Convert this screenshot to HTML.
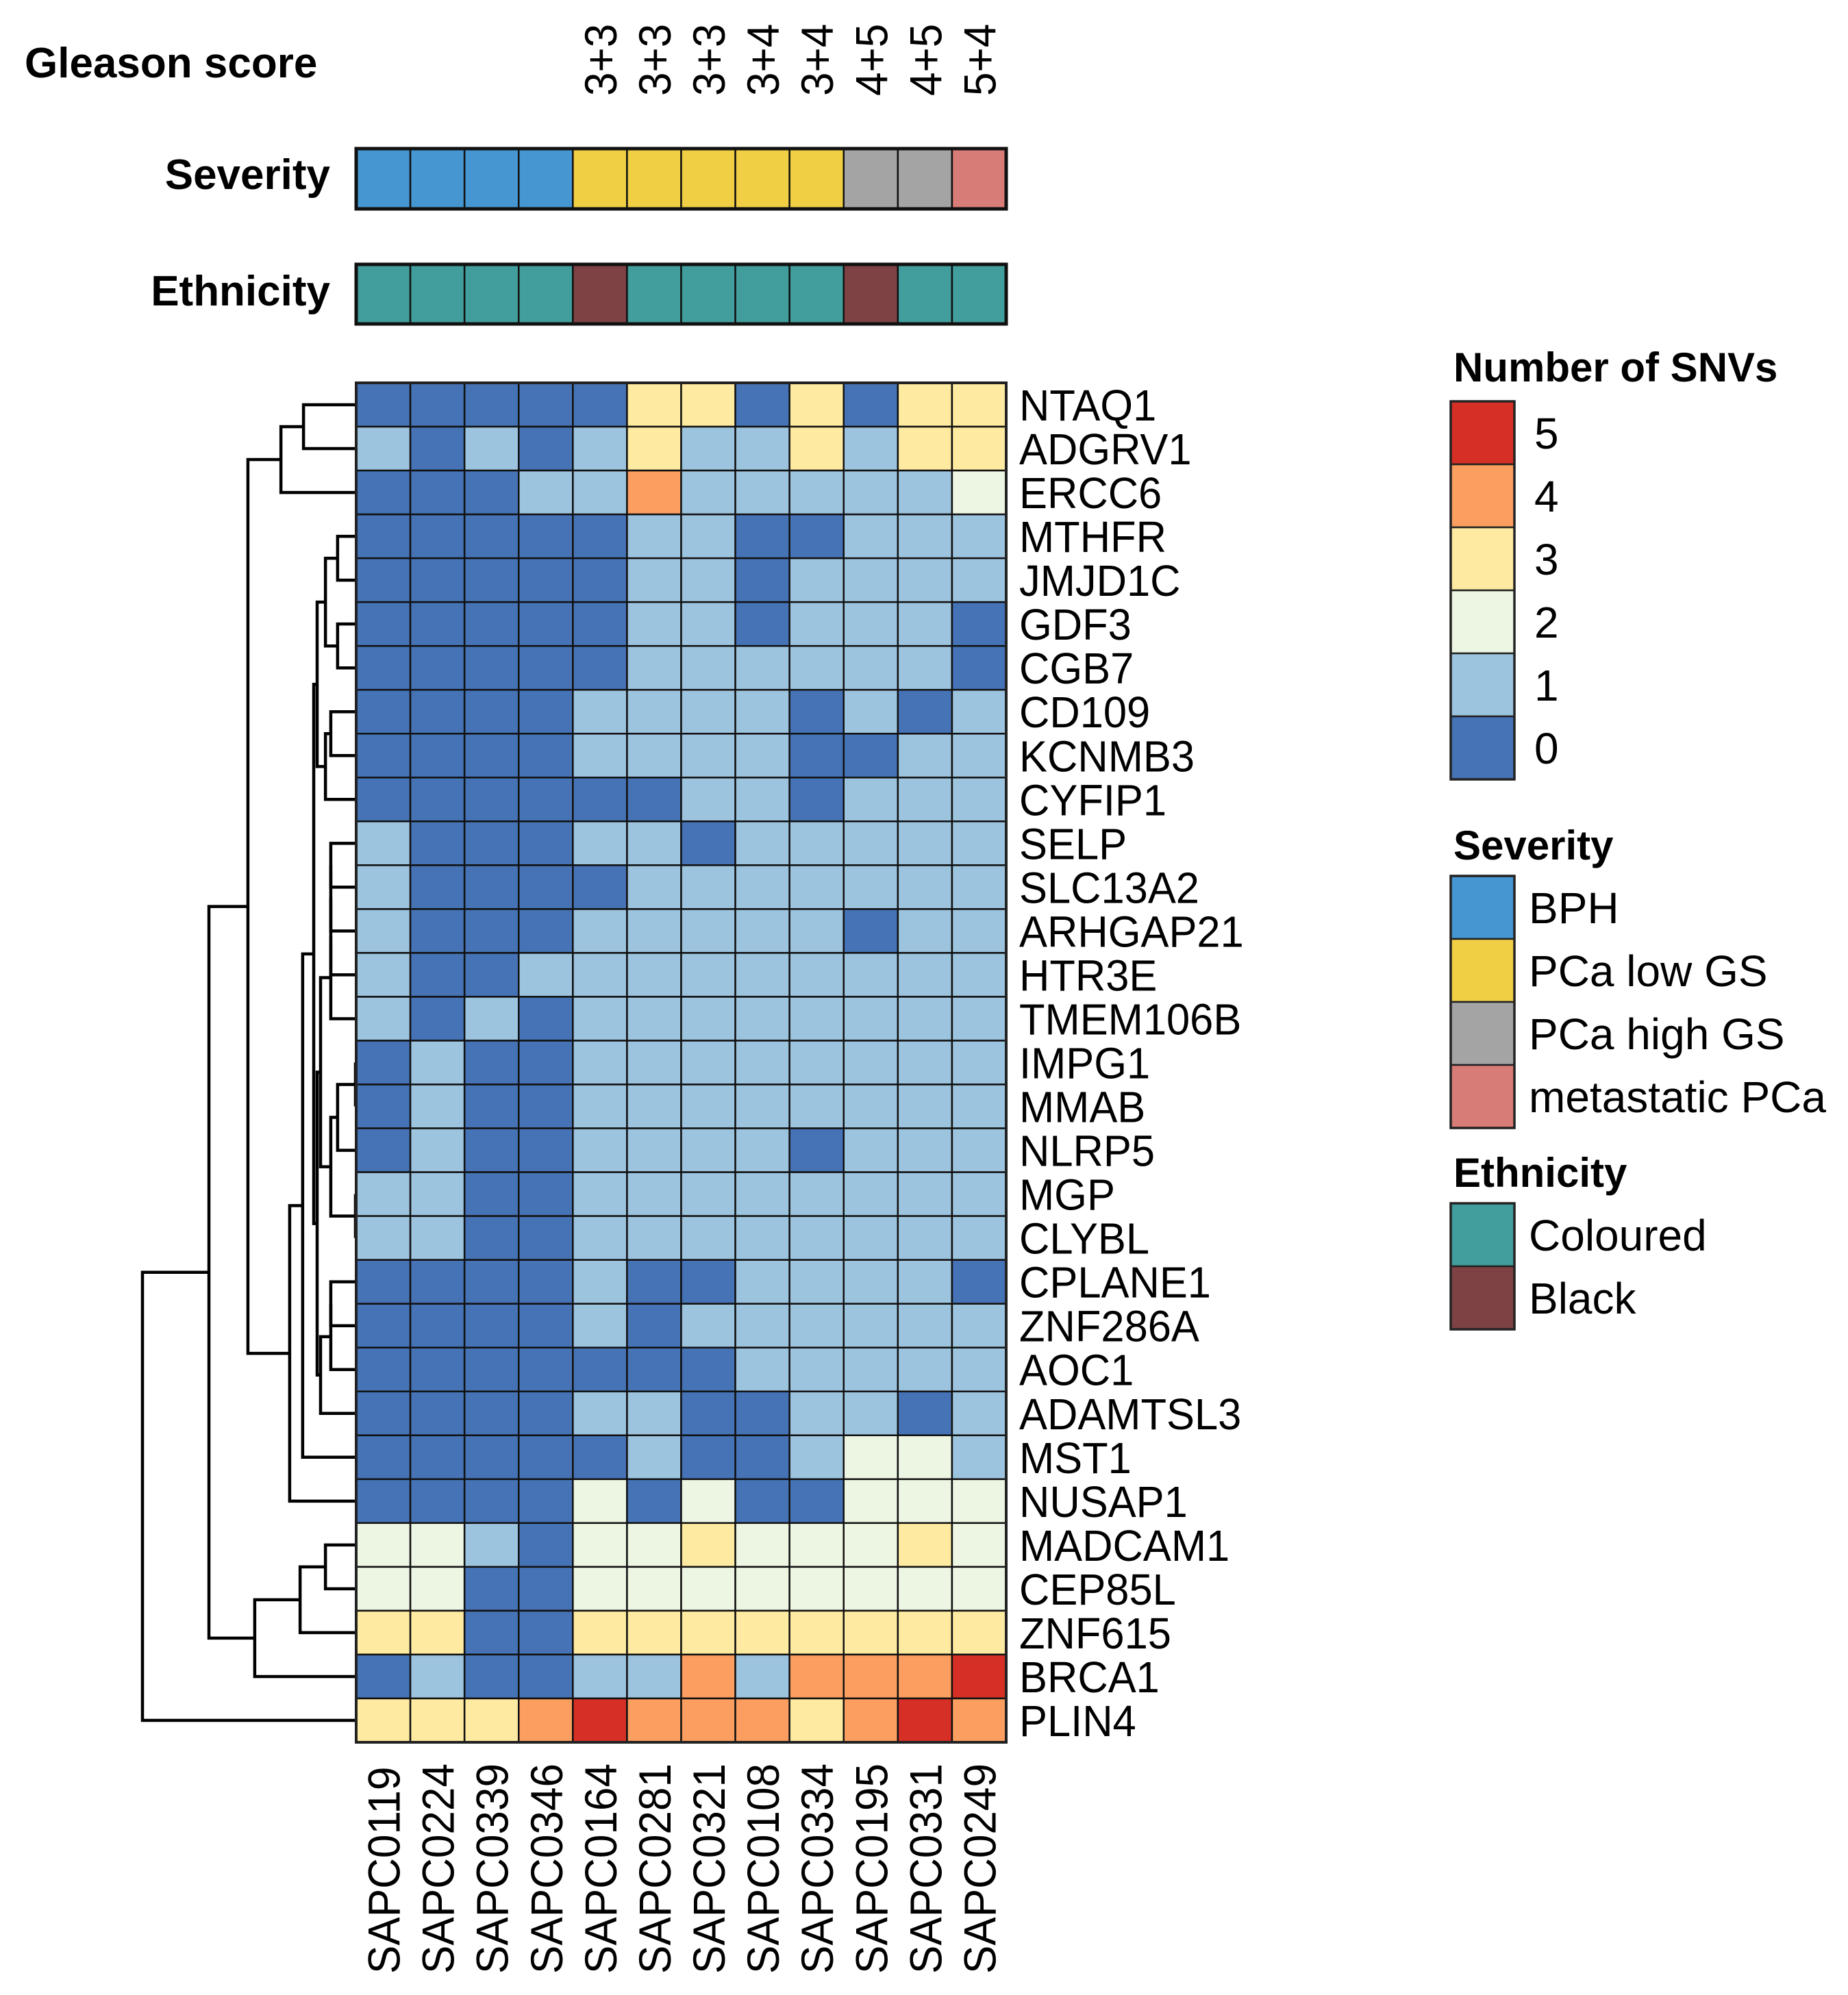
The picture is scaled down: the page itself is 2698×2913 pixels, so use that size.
<!DOCTYPE html>
<html><head><meta charset="utf-8"><style>
html,body{margin:0;padding:0;background:#fff;}
svg{display:block;}
text{font-family:"Liberation Sans",Arial,sans-serif;}
</style></head><body>
<svg id="chart" width="2698" height="2913" viewBox="0 0 2698 2913" xmlns="http://www.w3.org/2000/svg">
<rect width="2698" height="2913" fill="#fff"/>
<g id="dendro"></g>
<g id="annot"></g>
<g id="heat"></g>
<g id="labels"></g>
<g id="legend"></g>
</svg>
<script>
const samples = ["SAPC0119","SAPC0224","SAPC0339","SAPC0346","SAPC0164","SAPC0281","SAPC0321","SAPC0108","SAPC0334","SAPC0195","SAPC0331","SAPC0249"];
const gleason = ["","","","","3+3","3+3","3+3","3+4","3+4","4+5","4+5","5+4"];
const severity = ["BPH","BPH","BPH","BPH","PCa low GS","PCa low GS","PCa low GS","PCa low GS","PCa low GS","PCa high GS","PCa high GS","metastatic PCa"];
const ethnicity = ["Coloured","Coloured","Coloured","Coloured","Black","Coloured","Coloured","Coloured","Coloured","Black","Coloured","Coloured"];
const genes = ["NTAQ1","ADGRV1","ERCC6","MTHFR","JMJD1C","GDF3","CGB7","CD109","KCNMB3","CYFIP1","SELP","SLC13A2","ARHGAP21","HTR3E","TMEM106B","IMPG1","MMAB","NLRP5","MGP","CLYBL","CPLANE1","ZNF286A","AOC1","ADAMTSL3","MST1","NUSAP1","MADCAM1","CEP85L","ZNF615","BRCA1","PLIN4"];
const snvCounts = [
[0,0,0,0,0,3,3,0,3,0,3,3],
[1,0,1,0,1,3,1,1,3,1,3,3],
[0,0,0,1,1,4,1,1,1,1,1,2],
[0,0,0,0,0,1,1,0,0,1,1,1],
[0,0,0,0,0,1,1,0,1,1,1,1],
[0,0,0,0,0,1,1,0,1,1,1,0],
[0,0,0,0,0,1,1,1,1,1,1,0],
[0,0,0,0,1,1,1,1,0,1,0,1],
[0,0,0,0,1,1,1,1,0,0,1,1],
[0,0,0,0,0,0,1,1,0,1,1,1],
[1,0,0,0,1,1,0,1,1,1,1,1],
[1,0,0,0,0,1,1,1,1,1,1,1],
[1,0,0,0,1,1,1,1,1,0,1,1],
[1,0,0,1,1,1,1,1,1,1,1,1],
[1,0,1,0,1,1,1,1,1,1,1,1],
[0,1,0,0,1,1,1,1,1,1,1,1],
[0,1,0,0,1,1,1,1,1,1,1,1],
[0,1,0,0,1,1,1,1,0,1,1,1],
[1,1,0,0,1,1,1,1,1,1,1,1],
[1,1,0,0,1,1,1,1,1,1,1,1],
[0,0,0,0,1,0,0,1,1,1,1,0],
[0,0,0,0,1,0,1,1,1,1,1,1],
[0,0,0,0,0,0,0,1,1,1,1,1],
[0,0,0,0,1,1,0,0,1,1,0,1],
[0,0,0,0,0,1,0,0,1,2,2,1],
[0,0,0,0,2,0,2,0,0,2,2,2],
[2,2,1,0,2,2,3,2,2,2,3,2],
[2,2,0,0,2,2,2,2,2,2,2,2],
[3,3,0,0,3,3,3,3,3,3,3,3],
[0,1,0,0,1,1,4,1,4,4,4,5],
[3,3,3,4,5,4,4,4,3,4,5,4]
];
// dendrogram merges: negative = leaf (row index+1), positive = earlier merge (1-based)
const mergeLeft  = [-1,1,-4,-6,3,-8,6,5,-11,9,10,11,-16,13,-19,14,12,-21,18,19,17,8,22,23,2,-27,26,27,25,29];
const mergeRight = [-2,-3,-5,-7,4,-9,-10,7,-12,-13,-14,-15,-17,-18,-20,15,16,-22,-23,-24,20,21,-25,-26,24,-28,-29,-30,28,-31];
const mergeHeight= [2.44,3.50,0.84,0.84,1.41,1.16,1.41,1.80,1.16,1.16,1.16,1.16,0,0.84,0,1.16,1.64,1.16,1.16,1.64,1.80,1.96,2.48,3.09,5.05,1.41,2.60,4.73,6.88,10];
const snvLevels = [5,4,3,2,1,0];
const snvColors = {0:"#4573b5",1:"#9dc4de",2:"#edf6e3",3:"#feeaa0",4:"#fb9e60",5:"#d63026"};
const sevLevels = ["BPH","PCa low GS","PCa high GS","metastatic PCa"];
const sevColors = {"BPH":"#4596d1","PCa low GS":"#f1cf45","PCa high GS":"#a4a4a4","metastatic PCa":"#d77c76"};
const ethLevels = ["Coloured","Black"];
const ethColors = {"Coloured":"#419e9c","Black":"#7e4244"};

const NS="http://www.w3.org/2000/svg";
const X0=520, X1=1469, Y0=559, Y1=2544;
const cw=(X1-X0)/samples.length, rh=(Y1-Y0)/genes.length;
const xCol=i=>X0+i*cw, yRow=j=>Y0+j*rh;
const DX_LEAF=519, DX_ROOT=208, maxH=Math.max(...mergeHeight);
const xH=h=>DX_LEAF-(h/maxH)*(DX_LEAF-DX_ROOT);
function mk(tag,attrs,parent){const e=document.createElementNS(NS,tag);for(const k in attrs)e.setAttribute(k,attrs[k]);parent.appendChild(e);return e;}
const heat=document.getElementById('heat'), annot=document.getElementById('annot'), labels=document.getElementById('labels'), legend=document.getElementById('legend'), dendro=document.getElementById('dendro');

genes.forEach((g,j)=>{samples.forEach((s,i)=>{
  const r=mk('rect',{x:xCol(i),y:yRow(j),width:cw,height:rh,fill:snvColors[snvCounts[j][i]],stroke:"#111","stroke-width":2.5},heat);
  
  
});});
const hb=mk('rect',{x:X0,y:Y0,width:X1-X0,height:Y1-Y0,fill:"none",stroke:"#222","stroke-width":4},heat);



function annBar(vals,cols,yt,yb,name){
  vals.forEach((v,i)=>{
    const r=mk('rect',{x:xCol(i),y:yt,width:cw,height:yb-yt,fill:cols[v],stroke:"#111","stroke-width":2.5},annot);
    
    
  });
  const b=mk('rect',{x:X0,y:yt,width:X1-X0,height:yb-yt,fill:"none",stroke:"#111","stroke-width":5},annot);
  
  
}
annBar(severity,sevColors,217,305,'severity');
annBar(ethnicity,ethColors,386,473,'ethnicity');

function txt(s,attrs,parent,name){const t=mk('text',attrs,parent);t.textContent=s;return t;}
txt("Gleason score",{x:36,y:113,"font-size":62,"font-weight":"bold"},labels,'gleason-title');
txt("Severity",{x:482,y:276,"font-size":62,"font-weight":"bold","text-anchor":"end"},labels,'severity-title');
txt("Ethnicity",{x:482,y:446,"font-size":62,"font-weight":"bold","text-anchor":"end"},labels,'ethnicity-title');

gleason.forEach((g,i)=>{ if(!g) return;
  const cx=xCol(i)+cw/2+24;
  txt(g,{transform:`translate(${cx},140) rotate(-90) scale(0.94,1)`,"font-size":66},labels,'gleason-label-'+i);
});
genes.forEach((g,j)=>{
  txt(g,{transform:`translate(1488,${yRow(j)+rh/2+23}) scale(0.96,1)`,"font-size":64},labels,'row-label-'+g);
});
samples.forEach((s,i)=>{
  const cx=xCol(i)+cw/2+24;
  txt(s,{transform:`translate(${cx},2882) rotate(-90) scale(0.94,1)`,"font-size":66},labels,'col-label-'+s);
});

const nodeY=[], nodeX=[];
function posOf(k){ if(k<0) return [DX_LEAF, yRow(-k-1)+rh/2]; return [nodeX[k-1],nodeY[k-1]]; }
mergeLeft.forEach((l,n)=>{
  const r=mergeRight[n];
  const [xa,ya]=posOf(l), [xb,yb]=posOf(r);
  const xn=xH(mergeHeight[n]);
  nodeX.push(xn); nodeY.push((ya+yb)/2);
  const p=mk('path',{d:`M${xa},${ya}H${xn}V${yb}H${xb}`,fill:"none",stroke:"#000","stroke-width":4.5},dendro);
  
  
});

function legendBlock(title,levels,cols,ty,by,lx,name){
  txt(title,{x:2122,y:ty,"font-size":60,"font-weight":"bold"},legend,name+'-legend-title');
  const bh=92;
  levels.forEach((lv,k)=>{
    const r=mk('rect',{x:2118,y:by+k*bh,width:93,height:bh,fill:cols[lv],stroke:"#222","stroke-width":2.5},legend);
    
    
    txt(String(lv),{x:lx,y:by+k*bh+bh/2+23,"font-size":64},legend,name+'-legend-label-'+k);
  });
  const b=mk('rect',{x:2118,y:by,width:93,height:levels.length*bh,fill:"none",stroke:"#222","stroke-width":3.5},legend);
  
  
}
legendBlock("Number of SNVs",snvLevels,snvColors,557,586,2240,'snv');
legendBlock("Severity",sevLevels,sevColors,1255,1279,2232,'severity');
legendBlock("Ethnicity",ethLevels,ethColors,1733,1757,2232,'ethnicity');
</script>
</body></html>
